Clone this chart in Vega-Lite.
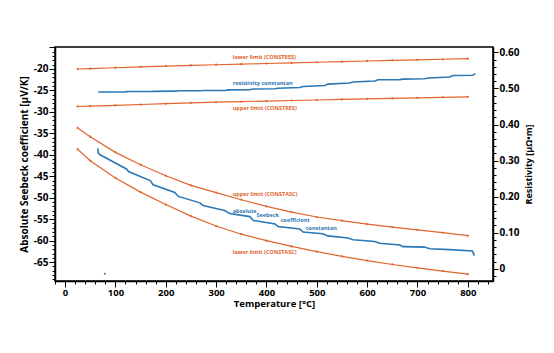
{
  "$schema": "https://vega.github.io/schema/vega-lite/v6.json",
  "width": 438,
  "height": 234,
  "autosize": {"type": "none"},
  "padding": {"left": 55, "top": 47, "right": 61, "bottom": 72},
  "background": "white",
  "config": {
    "view": {"stroke": "black", "strokeWidth": 1.5},
    "axis": {
      "domainColor": "black", "domainWidth": 1.5, "tickColor": "black", "tickWidth": 1,
      "labelFont": "Open Sans", "labelFontWeight": "bold", "labelFontSize": 10, "labelColor": "black",
      "titleFont": "Open Sans", "titleFontWeight": "bold", "titleFontSize": 10, "titleColor": "black",
      "grid": false, "labelOverlap": false, "labelFlush": false, "labelBound": false
    },
    "text": {"font": "Open Sans", "fontWeight": "bold", "fontSize": 5.5}
  },
  "datasets": {
    "seebeckLimits": [
      {"series": "upper limit (CONSTASC)", "T": 25, "v": -33.76},
      {"series": "upper limit (CONSTASC)", "T": 50, "v": -35.8},
      {"series": "upper limit (CONSTASC)", "T": 100, "v": -39.44},
      {"series": "upper limit (CONSTASC)", "T": 150, "v": -42.31},
      {"series": "upper limit (CONSTASC)", "T": 200, "v": -44.88},
      {"series": "upper limit (CONSTASC)", "T": 250, "v": -47.14},
      {"series": "upper limit (CONSTASC)", "T": 300, "v": -48.8},
      {"series": "upper limit (CONSTASC)", "T": 350, "v": -50.47},
      {"series": "upper limit (CONSTASC)", "T": 400, "v": -52.03},
      {"series": "upper limit (CONSTASC)", "T": 450, "v": -53.34},
      {"series": "upper limit (CONSTASC)", "T": 500, "v": -54.5},
      {"series": "upper limit (CONSTASC)", "T": 550, "v": -55.35},
      {"series": "upper limit (CONSTASC)", "T": 600, "v": -56.15},
      {"series": "upper limit (CONSTASC)", "T": 650, "v": -56.85},
      {"series": "upper limit (CONSTASC)", "T": 700, "v": -57.5},
      {"series": "upper limit (CONSTASC)", "T": 750, "v": -58.15},
      {"series": "upper limit (CONSTASC)", "T": 800, "v": -58.85},
      {"series": "lower limit (CONSTASC)", "T": 25, "v": -38.7},
      {"series": "lower limit (CONSTASC)", "T": 50, "v": -41.4},
      {"series": "lower limit (CONSTASC)", "T": 100, "v": -45.4},
      {"series": "lower limit (CONSTASC)", "T": 150, "v": -48.7},
      {"series": "lower limit (CONSTASC)", "T": 200, "v": -51.6},
      {"series": "lower limit (CONSTASC)", "T": 250, "v": -54.3},
      {"series": "lower limit (CONSTASC)", "T": 300, "v": -56.6},
      {"series": "lower limit (CONSTASC)", "T": 350, "v": -58.5},
      {"series": "lower limit (CONSTASC)", "T": 400, "v": -60.0},
      {"series": "lower limit (CONSTASC)", "T": 450, "v": -61.35},
      {"series": "lower limit (CONSTASC)", "T": 500, "v": -62.55},
      {"series": "lower limit (CONSTASC)", "T": 550, "v": -63.65},
      {"series": "lower limit (CONSTASC)", "T": 600, "v": -64.65},
      {"series": "lower limit (CONSTASC)", "T": 650, "v": -65.55},
      {"series": "lower limit (CONSTASC)", "T": 700, "v": -66.35},
      {"series": "lower limit (CONSTASC)", "T": 750, "v": -67.1},
      {"series": "lower limit (CONSTASC)", "T": 800, "v": -67.8}
    ],
    "seebeckMeasured": [
      {"T": 65, "v": -38.5}, {"T": 66, "v": -39.6}, {"T": 69.5, "v": -40.0},
      {"T": 122, "v": -43.3}, {"T": 126, "v": -43.9}, {"T": 169, "v": -46.0},
      {"T": 175, "v": -47.0}, {"T": 218, "v": -48.8}, {"T": 225, "v": -49.7},
      {"T": 268, "v": -51.2}, {"T": 274, "v": -51.8}, {"T": 317, "v": -53.0},
      {"T": 327, "v": -53.7}, {"T": 367, "v": -54.4}, {"T": 374, "v": -55.3},
      {"T": 417, "v": -56.1}, {"T": 423, "v": -56.7}, {"T": 466, "v": -57.3},
      {"T": 473, "v": -58.0}, {"T": 512, "v": -58.4}, {"T": 522, "v": -58.9},
      {"T": 562, "v": -59.4}, {"T": 572, "v": -59.8}, {"T": 615, "v": -60.2},
      {"T": 625, "v": -60.6}, {"T": 665, "v": -61.0}, {"T": 671, "v": -61.4},
      {"T": 714, "v": -61.5}, {"T": 724, "v": -61.9}, {"T": 764, "v": -62.1},
      {"T": 809, "v": -62.4}, {"T": 813, "v": -63.5}
    ],
    "stray": [{"T": 79, "v": -67.7}],
    "seebeckLabels": [
      {"label": "upper limit (CONSTASC)", "kind": "limit", "T": 333, "v": -49.1},
      {"label": "lower limit (CONSTASC)", "kind": "limit", "T": 333, "v": -62.6},
      {"label": "absolute", "kind": "measured", "T": 333, "v": -53.2},
      {"label": "Seebeck", "kind": "measured", "T": 380, "v": -54.1},
      {"label": "coefficient", "kind": "measured", "T": 428, "v": -55.1},
      {"label": "constantan", "kind": "measured", "T": 478, "v": -57.1}
    ],
    "resLimits": [
      {"series": "lower limit (CONSTRES)", "T": 25, "v": 0.554},
      {"series": "lower limit (CONSTRES)", "T": 50, "v": 0.555},
      {"series": "lower limit (CONSTRES)", "T": 100, "v": 0.5575},
      {"series": "lower limit (CONSTRES)", "T": 150, "v": 0.5598},
      {"series": "lower limit (CONSTRES)", "T": 200, "v": 0.562},
      {"series": "lower limit (CONSTRES)", "T": 250, "v": 0.564},
      {"series": "lower limit (CONSTRES)", "T": 300, "v": 0.5658},
      {"series": "lower limit (CONSTRES)", "T": 350, "v": 0.5675},
      {"series": "lower limit (CONSTRES)", "T": 400, "v": 0.5692},
      {"series": "lower limit (CONSTRES)", "T": 450, "v": 0.571},
      {"series": "lower limit (CONSTRES)", "T": 500, "v": 0.5727},
      {"series": "lower limit (CONSTRES)", "T": 550, "v": 0.5745},
      {"series": "lower limit (CONSTRES)", "T": 600, "v": 0.5762},
      {"series": "lower limit (CONSTRES)", "T": 650, "v": 0.578},
      {"series": "lower limit (CONSTRES)", "T": 700, "v": 0.5795},
      {"series": "lower limit (CONSTRES)", "T": 750, "v": 0.581},
      {"series": "lower limit (CONSTRES)", "T": 800, "v": 0.5825},
      {"series": "upper limit (CONSTRES)", "T": 25, "v": 0.45},
      {"series": "upper limit (CONSTRES)", "T": 50, "v": 0.451},
      {"series": "upper limit (CONSTRES)", "T": 100, "v": 0.4533},
      {"series": "upper limit (CONSTRES)", "T": 150, "v": 0.4555},
      {"series": "upper limit (CONSTRES)", "T": 200, "v": 0.4577},
      {"series": "upper limit (CONSTRES)", "T": 250, "v": 0.46},
      {"series": "upper limit (CONSTRES)", "T": 300, "v": 0.4621},
      {"series": "upper limit (CONSTRES)", "T": 350, "v": 0.4636},
      {"series": "upper limit (CONSTRES)", "T": 400, "v": 0.4651},
      {"series": "upper limit (CONSTRES)", "T": 450, "v": 0.4666},
      {"series": "upper limit (CONSTRES)", "T": 500, "v": 0.468},
      {"series": "upper limit (CONSTRES)", "T": 550, "v": 0.4695},
      {"series": "upper limit (CONSTRES)", "T": 600, "v": 0.471},
      {"series": "upper limit (CONSTRES)", "T": 650, "v": 0.4724},
      {"series": "upper limit (CONSTRES)", "T": 700, "v": 0.4739},
      {"series": "upper limit (CONSTRES)", "T": 750, "v": 0.4753},
      {"series": "upper limit (CONSTRES)", "T": 800, "v": 0.4768}
    ],
    "resMeasured": [
      {"T": 66, "v": 0.49}, {"T": 120, "v": 0.4905}, {"T": 125, "v": 0.4915},
      {"T": 170, "v": 0.4915}, {"T": 175, "v": 0.492}, {"T": 220, "v": 0.4925},
      {"T": 225, "v": 0.4935}, {"T": 268, "v": 0.4935}, {"T": 275, "v": 0.4945},
      {"T": 318, "v": 0.4945}, {"T": 324, "v": 0.496}, {"T": 367, "v": 0.4965},
      {"T": 373, "v": 0.4985}, {"T": 416, "v": 0.499}, {"T": 423, "v": 0.5005},
      {"T": 466, "v": 0.5025}, {"T": 473, "v": 0.5055}, {"T": 516, "v": 0.508},
      {"T": 522, "v": 0.512}, {"T": 565, "v": 0.515}, {"T": 572, "v": 0.518},
      {"T": 615, "v": 0.5205}, {"T": 622, "v": 0.524}, {"T": 665, "v": 0.5245},
      {"T": 671, "v": 0.526}, {"T": 714, "v": 0.527}, {"T": 721, "v": 0.529},
      {"T": 764, "v": 0.5316}, {"T": 770, "v": 0.536}, {"T": 810, "v": 0.5365},
      {"T": 815, "v": 0.541}
    ],
    "resLabels": [
      {"label": "lower limit (CONSTRES)", "kind": "limit", "T": 333, "v": 0.586},
      {"label": "resistivity constantan", "kind": "measured", "T": 333, "v": 0.515},
      {"label": "upper limit (CONSTRES)", "kind": "limit", "T": 333, "v": 0.4454}
    ]
  },
  "encoding": {
    "x": {
      "field": "T", "type": "quantitative",
      "scale": {"domain": [-20, 850], "nice": false, "zero": false},
      "axis": {
        "title": "Temperature [°C]", "tickCount": 43,
        "labelExpr": "datum.value % 100 === 0 && datum.value >= 0 ? '' + datum.value : ''",
        "tickSize": {"condition": {"test": "datum.value % 100 === 0", "value": 6}, "value": 3},
        "labelPadding": 0, "titlePadding": 2, "labelFontSize": 9.5, "titleFontSize": 9.5
      }
    }
  },
  "layer": [
    {
      "encoding": {
        "y": {
          "field": "v", "type": "quantitative",
          "scale": {"domain": [-69.4, -14.9], "nice": false, "zero": false},
          "axis": {
            "orient": "left", "title": "Absolute Seebeck coefficient [µV/K]", "tickCount": 55,
            "labelExpr": "datum.value % 5 === 0 && datum.value <= -20 ? '' + datum.value : ''",
            "tickSize": {"condition": {"test": "datum.value % 5 === 0", "value": 6}, "value": 3},
            "labelPadding": 1, "titlePadding": 4
          }
        }
      },
      "layer": [
        {
          "data": {"name": "seebeckLimits"},
          "mark": {"type": "line", "color": "#e2642c", "strokeWidth": 1.2, "point": {"filled": true, "size": 5, "color": "#e2642c"}},
          "encoding": {"detail": {"field": "series", "type": "nominal"}}
        },
        {
          "data": {"name": "seebeckMeasured"},
          "mark": {"type": "line", "color": "#2a78b6", "strokeWidth": 1.6},
          "encoding": {}
        },
        {
          "data": {"name": "stray"},
          "mark": {"type": "point", "filled": true, "size": 4, "color": "#2a78b6", "opacity": 1}
        },
        {
          "data": {"name": "seebeckLabels"},
          "mark": {"type": "text", "align": "left"},
          "encoding": {
            "text": {"field": "label", "type": "nominal"},
            "color": {"field": "kind", "type": "nominal", "scale": {"domain": ["limit", "measured"], "range": ["#e2642c", "#2a78b6"]}, "legend": null}
          }
        }
      ]
    },
    {
      "encoding": {
        "y": {
          "field": "v", "type": "quantitative",
          "scale": {"domain": [-0.034, 0.615], "nice": false, "zero": false},
          "axis": {
            "orient": "right", "title": "Resistivity [µΩ•m]", "tickCount": 32,
            "labelExpr": "abs(datum.value*10 - round(datum.value*10)) < 1e-6 ? (abs(datum.value) < 1e-9 ? '0' : format(datum.value, '.2f')) : ''",
            "tickSize": {"condition": {"test": "abs(datum.value*10 - round(datum.value*10)) < 1e-6", "value": 5}, "value": 3},
            "labelPadding": 1, "titlePadding": 5, "titleAngle": 270, "titleBaseline": "top", "titleFontSize": 9
          }
        }
      },
      "layer": [
        {
          "data": {"name": "resLimits"},
          "mark": {"type": "line", "color": "#e2642c", "strokeWidth": 1.2, "point": {"filled": true, "size": 5, "color": "#e2642c"}},
          "encoding": {"detail": {"field": "series", "type": "nominal"}}
        },
        {
          "data": {"name": "resMeasured"},
          "mark": {"type": "line", "color": "#2a78b6", "strokeWidth": 1.6},
          "encoding": {}
        },
        {
          "data": {"name": "resLabels"},
          "mark": {"type": "text", "align": "left"},
          "encoding": {
            "text": {"field": "label", "type": "nominal"},
            "color": {"field": "kind", "type": "nominal", "scale": {"domain": ["limit", "measured"], "range": ["#e2642c", "#2a78b6"]}, "legend": null}
          }
        }
      ]
    }
  ],
  "resolve": {"scale": {"y": "independent"}}
}
